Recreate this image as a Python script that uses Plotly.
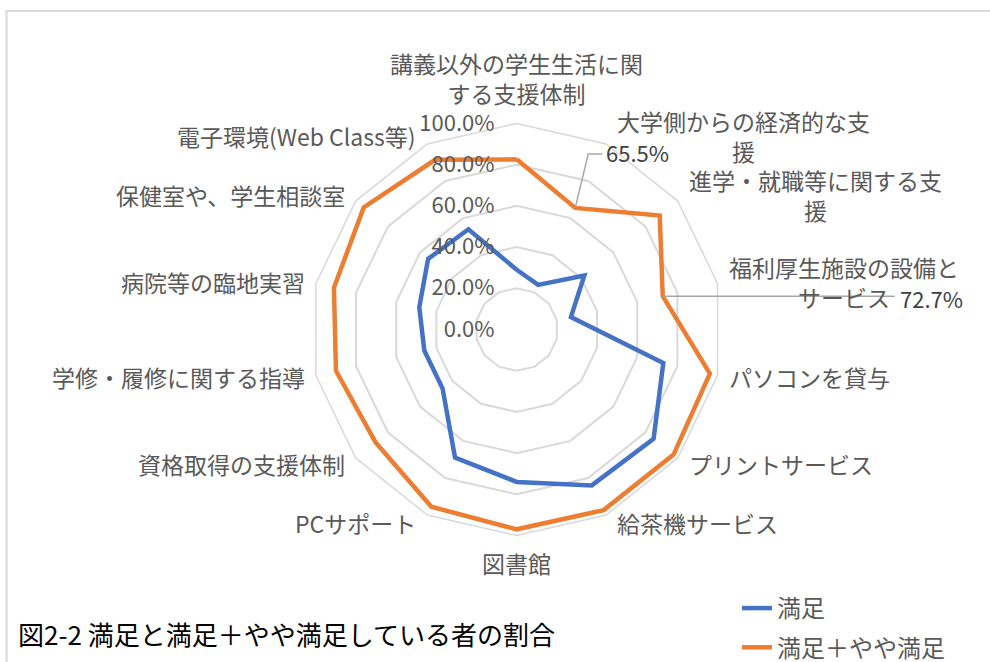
import math
import plotly.graph_objects as go

# ---- data ----
categories = [
    "講義以外の学生生活に関<br>する支援体制",
    "大学側からの経済的な支<br>援",
    "進学・就職等に関する支<br>援",
    "福利厚生施設の設備と<br>サービス",
    "パソコンを貸与",
    "プリントサービス",
    "給茶機サービス",
    "図書館",
    "PCサポート",
    "資格取得の支援体制",
    "学修・履修に関する指導",
    "病院等の臨地実習",
    "保健室や、学生相談室",
    "電子環境(Web Class等)",
]
satisfied = [0.29, 0.24, 0.42, 0.27, 0.73, 0.85, 0.84, 0.74, 0.69, 0.46, 0.46, 0.485, 0.55, 0.54]
satisfied_plus = [0.826, 0.655, 0.888, 0.727, 0.962, 0.974, 0.973, 0.97, 0.955, 0.877, 0.90, 0.91, 0.95, 0.914]
radial_ticks = [0, 0.2, 0.4, 0.6, 0.8, 1.0]
radial_ticktext = ["0.0%", "20.0%", "40.0%", "60.0%", "80.0%", "100.0%"]
series_names = ["満足", "満足＋やや満足"]
title_text = "図2-2 満足と満足＋やや満足している者の割合"
labelled_points = [1, 3]  # indices of the orange series with data labels

# ---- layout geometry ----
W, H = 990, 662
CX, CY, R = 516.7, 329.5, 206.0
FONT = "Noto Sans CJK JP"
BLUE, ORANGE = "#4472C4", "#ED7D31"
GRID = "#d9d9d9"
TXT = "#595959"
N = len(categories)

dom_x = [(CX - R) / W, (CX + R) / W]
dom_y = [1 - (CY + R) / H, 1 - (CY - R) / H]

fig = go.Figure()
for name, vals, col, grp in [(series_names[0], satisfied, BLUE, "a"),
                             (series_names[1], satisfied_plus, ORANGE, "b")]:
    fig.add_trace(go.Scatterpolar(
        r=vals + vals[:1], theta=categories + categories[:1],
        mode="lines", name=name, legendgroup=grp,
        line=dict(color=col, width=4.5),
        hoverinfo="skip",
    ))


def point_px(i, v):
    a = math.radians(i * 360 / N)
    return CX + v * R * math.sin(a), CY - v * R * math.cos(a)


def to_paper(px, py):
    return px / W, 1 - py / H


shapes = []
annotations = []

# category labels around the outer polygon (centred multi-line, Excel style)
for i, cat in enumerate(categories):
    a = math.radians(i * 360 / N)
    vx, vy = point_px(i, 1.0)
    s, c = math.sin(a), math.cos(a)
    if i == 0:
        x, y, xa, ya = vx, vy - 11, "center", "bottom"
    elif 2 * i == N:
        x, y, xa, ya = vx, vy + 8, "center", "top"
    else:
        x = vx + (9 if s > 0 else -9)
        y = vy - 9 * c
        xa, ya = ("left" if s > 0 else "right"), "middle"
    px_, py_ = to_paper(x, y)
    annotations.append(dict(x=px_, y=py_, xref="paper", yref="paper", xanchor=xa, yanchor=ya,
                            align="center", text=cat, showarrow=False,
                            font=dict(family=FONT, size=23, color=TXT)))

# data labels with leader lines
i0 = labelled_points[0]
px, py = point_px(i0, satisfied_plus[i0])
pts = [(px, py), (px + 13, py - 54), (px + 27, py - 54)]
pp = [to_paper(*p) for p in pts]
shapes.append(dict(type="path", xref="paper", yref="paper",
                   path="M {} {} L {} {} L {} {}".format(pp[0][0], pp[0][1], pp[1][0], pp[1][1], pp[2][0], pp[2][1]),
                   line=dict(color="#a6a6a6", width=1.5)))
lx, ly = to_paper(px + 29, py - 56)
annotations.append(dict(x=lx, y=ly, xref="paper", yref="paper", xanchor="left", yanchor="middle",
                        text=f"{satisfied_plus[i0]*100:.1f}%", showarrow=False,
                        font=dict(family=FONT, size=22, color="#404040")))

i1 = labelled_points[1]
px, py = point_px(i1, satisfied_plus[i1])
pp = [to_paper(px, py), to_paper(px + 232, py)]
shapes.append(dict(type="line", xref="paper", yref="paper",
                   x0=pp[0][0], y0=pp[0][1], x1=pp[1][0], y1=pp[1][1],
                   line=dict(color="#a6a6a6", width=1.5)))
lx, ly = to_paper(px + 235, py + 2)
annotations.append(dict(x=lx, y=ly, xref="paper", yref="paper", xanchor="left", yanchor="middle",
                        text=f"{satisfied_plus[i1]*100:.1f}%", showarrow=False,
                        font=dict(family=FONT, size=22, color="#404040")))

# title at bottom-left
annotations.append(dict(x=16 / W, y=1 - 633 / H, xref="paper", yref="paper", xanchor="left", yanchor="middle",
                        text=title_text, showarrow=False,
                        font=dict(family=FONT, size=26, color="#000000")))

# chart-area border (left and top visible)
shapes.append(dict(type="rect", xref="paper", yref="paper",
                   x0=6.5 / W, y0=-0.2, x1=1.2, y1=1 - 11 / H,
                   line=dict(color=GRID, width=2), layer="below"))

fig.update_layout(
    width=W, height=H,
    margin=dict(l=0, r=0, t=0, b=0, autoexpand=False),
    paper_bgcolor="white",
    font=dict(family=FONT, size=22, color=TXT),
    polar=dict(
        domain=dict(x=dom_x, y=dom_y),
        bgcolor="white",
        gridshape="linear",
        radialaxis=dict(
            range=[0, 1], tickvals=radial_ticks, ticktext=radial_ticktext,
            angle=90, side="counterclockwise", tickangle=90,
            showline=False, gridcolor=GRID, gridwidth=1.5,
            ticks="outside", ticklen=14, tickcolor="rgba(0,0,0,0)",
            tickfont=dict(family=FONT, size=22, color=TXT),
        ),
        angularaxis=dict(
            direction="clockwise", rotation=90,
            showgrid=False, showline=True, linecolor=GRID, linewidth=1.5,
            ticks="", showticklabels=False,
        ),
    ),
    legend=dict(x=737 / W, y=1 - 586 / H, xanchor="left", yanchor="top",
                font=dict(family=FONT, size=24, color=TXT),
                traceorder="grouped", tracegroupgap=5,
                bgcolor="rgba(0,0,0,0)", itemwidth=30),
    shapes=shapes,
    annotations=annotations,
)

fig.write_html("out.html", config={"displayModeBar": False},
               post_script="document.body.style.margin='0';document.body.style.overflow='hidden';")
